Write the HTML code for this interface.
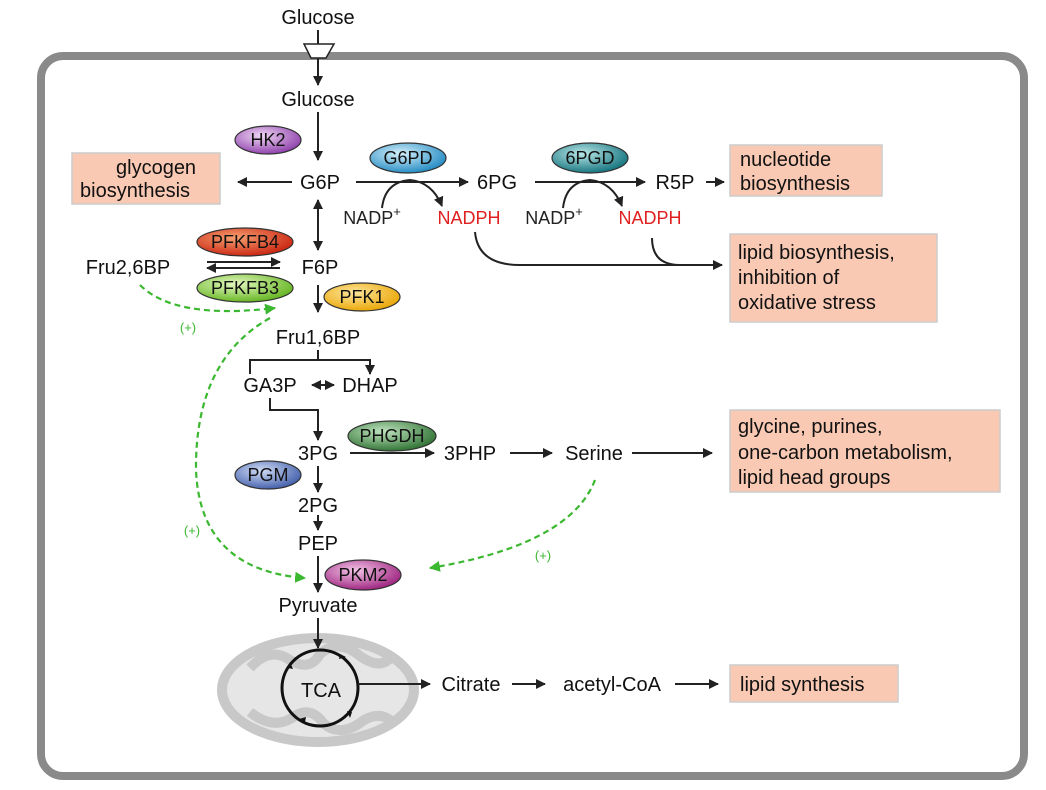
<!DOCTYPE html>
<html><head><meta charset="utf-8"><style>html,body{margin:0;padding:0;background:#fff}svg{display:block}text{font-family:"Liberation Sans",sans-serif}</style></head><body>
<svg width="1046" height="790" viewBox="0 0 1046 790" xmlns="http://www.w3.org/2000/svg">
<defs>
<marker id="a" viewBox="0 0 10 10" refX="9" refY="5" markerWidth="5" markerHeight="5" orient="auto-start-reverse"><path d="M0,0L10,5L0,10z" fill="#222"/></marker>
<marker id="g" viewBox="0 0 10 10" refX="9" refY="5" markerWidth="5" markerHeight="5" orient="auto"><path d="M0,0L10,5L0,10z" fill="#3bb830"/></marker>
<radialGradient id="pu" cx=".4" cy=".35" r=".7"><stop offset="0" stop-color="#f0d6f5"/><stop offset="1" stop-color="#8a3aa8"/></radialGradient>
<radialGradient id="bl" cx=".4" cy=".35" r=".7"><stop offset="0" stop-color="#d5f0fb"/><stop offset="1" stop-color="#1b86c0"/></radialGradient>
<radialGradient id="tl" cx=".4" cy=".35" r=".7"><stop offset="0" stop-color="#b8e6e6"/><stop offset="1" stop-color="#0d6f7a"/></radialGradient>
<radialGradient id="rd" cx=".4" cy=".35" r=".7"><stop offset="0" stop-color="#f7a070"/><stop offset="1" stop-color="#c8200e"/></radialGradient>
<radialGradient id="gr" cx=".4" cy=".35" r=".7"><stop offset="0" stop-color="#e4f8c0"/><stop offset="1" stop-color="#5fb21a"/></radialGradient>
<radialGradient id="or" cx=".4" cy=".35" r=".7"><stop offset="0" stop-color="#fde59a"/><stop offset="1" stop-color="#e9a400"/></radialGradient>
<radialGradient id="dg" cx=".4" cy=".35" r=".7"><stop offset="0" stop-color="#bfe3bf"/><stop offset="1" stop-color="#2a6e2e"/></radialGradient>
<radialGradient id="bu" cx=".4" cy=".35" r=".7"><stop offset="0" stop-color="#d0dcf5"/><stop offset="1" stop-color="#3d5aa8"/></radialGradient>
<radialGradient id="mg" cx=".4" cy=".35" r=".7"><stop offset="0" stop-color="#f3c4e6"/><stop offset="1" stop-color="#9a1d7c"/></radialGradient>
</defs>
<rect x="41" y="56" width="983" height="720" rx="22" fill="none" stroke="#8a8a8a" stroke-width="8"/>
<path d="M304,44H334L326,58H311Z" fill="#fff" stroke="#222" stroke-width="1.5"/>
<g stroke="#222" stroke-width="2" fill="none" marker-end="url(#a)">
<line x1="318" y1="30" x2="318" y2="44" marker-end="none"/>
<line x1="318" y1="58" x2="318" y2="85"/>
<line x1="318" y1="112" x2="318" y2="160"/>
<line x1="292" y1="182" x2="238" y2="182"/>
<line x1="356" y1="182" x2="468" y2="182"/>
<line x1="535" y1="182" x2="645" y2="182"/>
<line x1="706" y1="182" x2="724" y2="182"/>
<line x1="318" y1="200" x2="318" y2="250" marker-start="url(#a)"/>
<line x1="207" y1="262" x2="280" y2="262"/>
<line x1="280" y1="268" x2="207" y2="268"/>
<line x1="318" y1="285" x2="318" y2="312"/>
<path d="M318,350V360H250V374M318,360H370V374" />
<line x1="312" y1="385" x2="334" y2="385" marker-start="url(#a)"/>
<path d="M270,398V410H318V440"/>
<line x1="350" y1="453" x2="434" y2="453"/>
<line x1="510" y1="453" x2="552" y2="453"/>
<line x1="632" y1="453" x2="712" y2="453"/>
<line x1="318" y1="466" x2="318" y2="492"/>
<line x1="318" y1="515" x2="318" y2="530"/>
<line x1="318" y1="556" x2="318" y2="592"/>
<path d="M382,208Q385,182 410,180Q432,182 442,206"/>
<path d="M563,208Q566,182 590,180Q612,182 622,206"/>
<path d="M475,232Q478,265 520,265H722"/>
<path d="M652,238Q652,265 680,265" marker-end="none"/>
<line x1="512" y1="684" x2="545" y2="684"/>
<line x1="675" y1="684" x2="718" y2="684"/>
</g>
<ellipse cx="318" cy="690" rx="96" ry="52" fill="#e6e6e6" stroke="#c8c8c8" stroke-width="10"/>
<path d="M250,668q20,-22 40,-8q20,12 30,-6q18,-16 40,2q20,14 30,2M250,712q22,18 42,6q18,-14 32,6q18,14 40,-4q18,-10 30,4" fill="none" stroke="#c8c8c8" stroke-width="10"/>
<line x1="318" y1="618" x2="318" y2="648" stroke="#222" stroke-width="2" marker-end="url(#a)"/>
<circle cx="320" cy="688" r="38" fill="none" stroke="#111" stroke-width="3"/>
<line x1="358" y1="684" x2="430" y2="684" stroke="#222" stroke-width="2" marker-end="url(#a)"/>
<g fill="#111"><path d="M340,654l6,3l-7,2z"/><path d="M352,712l-2,6l-3,-7z"/><path d="M305,722l-6,-3l7,-2z"/><path d="M288,668l2,-6l3,7z"/></g>
<g fill="#f9c9b4" stroke="#ccc" stroke-width="1.5">
<rect x="72" y="153" width="148" height="51"/>
<rect x="730" y="145" width="152" height="51"/>
<rect x="730" y="234" width="207" height="88"/>
<rect x="730" y="410" width="270" height="82"/>
<rect x="730" y="665" width="168" height="37"/>
</g>
<g stroke="#3bb830" stroke-width="2.2" fill="none" stroke-dasharray="6,4">
<path d="M140,285Q175,320 275,308" marker-end="url(#g)"/>
<path d="M270,318Q195,360 196,470Q200,570 305,578" marker-end="url(#g)"/>
<path d="M595,480Q570,545 430,568" marker-end="url(#g)"/>
</g>
<g stroke="#333" stroke-width="1.2">
<ellipse cx="268" cy="140" rx="33" ry="14" fill="url(#pu)"/>
<ellipse cx="408" cy="158" rx="38" ry="15" fill="url(#bl)"/>
<ellipse cx="590" cy="158" rx="38" ry="15" fill="url(#tl)"/>
<ellipse cx="245" cy="242" rx="48" ry="14" fill="url(#rd)"/>
<ellipse cx="245" cy="288" rx="48" ry="14" fill="url(#gr)"/>
<ellipse cx="362" cy="297" rx="38" ry="14" fill="url(#or)"/>
<ellipse cx="392" cy="436" rx="44" ry="15" fill="url(#dg)"/>
<ellipse cx="268" cy="475" rx="33" ry="14" fill="url(#bu)"/>
<ellipse cx="363" cy="575" rx="38" ry="15" fill="url(#mg)"/>
</g>
<g font-size="18" fill="#111" text-anchor="middle">
<text x="268" y="146">HK2</text><text x="408" y="164">G6PD</text><text x="590" y="164">6PGD</text>
<text x="245" y="248">PFKFB4</text><text x="245" y="294">PFKFB3</text><text x="362" y="303">PFK1</text>
<text x="392" y="442">PHGDH</text><text x="268" y="481">PGM</text><text x="363" y="581">PKM2</text>
</g>
<g font-size="20" fill="#111" text-anchor="middle">
<text x="318" y="24">Glucose</text><text x="318" y="106">Glucose</text><text x="320" y="189">G6P</text>
<text x="497" y="189">6PG</text><text x="675" y="189">R5P</text><text x="320" y="274">F6P</text>
<text x="128" y="274">Fru2,6BP</text><text x="318" y="344">Fru1,6BP</text>
<text x="270" y="392">GA3P</text><text x="370" y="392">DHAP</text>
<text x="318" y="460">3PG</text><text x="470" y="460">3PHP</text><text x="594" y="460">Serine</text>
<text x="318" y="512">2PG</text><text x="318" y="550">PEP</text><text x="318" y="612">Pyruvate</text>
<text x="321" y="697">TCA</text><text x="471" y="691">Citrate</text><text x="612" y="691">acetyl-CoA</text>
</g>
<g font-size="18">
<text x="372" y="224" fill="#222" text-anchor="middle">NADP<tspan dy="-8" font-size="13">+</tspan></text>
<text x="469" y="224" fill="#e02020" text-anchor="middle">NADPH</text>
<text x="554" y="224" fill="#222" text-anchor="middle">NADP<tspan dy="-8" font-size="13">+</tspan></text>
<text x="650" y="224" fill="#e02020" text-anchor="middle">NADPH</text>
</g>
<g font-size="20" fill="#111">
<text x="116" y="174">glycogen</text><text x="80" y="197">biosynthesis</text>
<text x="740" y="166">nucleotide</text><text x="740" y="190">biosynthesis</text>
<text x="738" y="259">lipid biosynthesis,</text><text x="738" y="284">inhibition of</text><text x="738" y="309">oxidative stress</text>
<text x="738" y="433">glycine, purines,</text><text x="738" y="459">one-carbon metabolism,</text><text x="738" y="484">lipid head groups</text>
<text x="740" y="691">lipid synthesis</text>
</g>
<g font-size="13" fill="#3bb830" text-anchor="middle">
<text x="188" y="332">(+)</text><text x="192" y="535">(+)</text><text x="543" y="560">(+)</text>
</g>
</svg>
</body></html>
